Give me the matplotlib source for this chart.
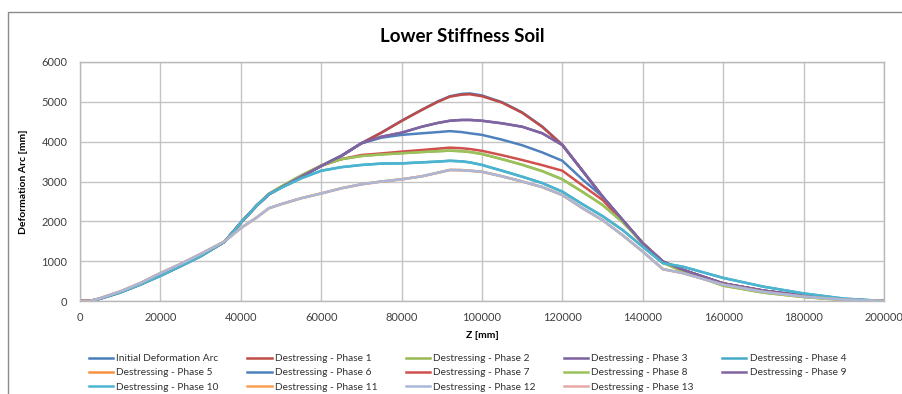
import matplotlib
matplotlib.use("Agg")
import matplotlib.pyplot as plt
from matplotlib.patches import Rectangle
import numpy as np

plt.rcParams['font.family'] = ['Lato', 'DejaVu Sans']

# ---------------- data ----------------
z = [0, 2500, 5000, 10000, 15000, 20000, 25000, 30000, 36000, 40000, 44000, 47000,
     50000, 55000, 60000, 65000, 70000, 75000, 80000, 85000, 89000, 92000, 95000, 97000, 100000,
     105000, 110000, 115000, 120000, 125000, 130000, 135000, 140000, 145000, 150000,
     160000, 170000, 180000, 190000, 200000]

initial_arc = [0, 0, 60, 220, 420, 640, 880, 1130, 1490, 1965, 2400, 2680,
               2850, 3120, 3390, 3650, 3960, 4230, 4525, 4800, 5010, 5140, 5200, 5210, 5160,
               4990, 4735, 4380, 3920, 3270, 2620, 2030, 1450, 990, 780,
               440, 260, 130, 40, 0]
phase_1 = [0, 0, 60, 220, 420, 640, 880, 1130, 1490, 1965, 2400, 2680,
           2850, 3120, 3390, 3640, 3960, 4225, 4520, 4795, 5000, 5130, 5180, 5190, 5140,
           4980, 4725, 4370, 3915, 3270, 2620, 2030, 1450, 990, 780,
           440, 260, 130, 40, 0]
phase_2 = [0, 0, 60, 220, 420, 640, 880, 1130, 1490, 1965, 2400, 2690,
           2870, 3150, 3400, 3560, 3640, 3680, 3710, 3740, 3760, 3775, 3760, 3740, 3690,
           3560, 3420, 3260, 3055, 2740, 2410, 1980, 1450, 960, 740,
           385, 210, 100, 25, 0]
phase_3 = [0, 0, 60, 220, 420, 640, 880, 1130, 1490, 1965, 2400, 2680,
           2850, 3120, 3390, 3640, 3960, 4125, 4225, 4375, 4470, 4525, 4545, 4545, 4525,
           4460, 4375, 4210, 3915, 3270, 2620, 2030, 1450, 990, 780,
           440, 260, 130, 40, 0]
phase_4 = [0, 0, 55, 210, 410, 630, 870, 1120, 1490, 1965, 2400, 2680,
           2840, 3080, 3270, 3360, 3415, 3450, 3455, 3480, 3500, 3520, 3505, 3480, 3415,
           3270, 3120, 2960, 2745, 2430, 2130, 1780, 1360, 950, 860,
           580, 360, 190, 60, 0]
phase_5 = [0, 0, 70, 240, 450, 700, 930, 1180, 1500, 1830, 2100, 2330,
           2430, 2580, 2700, 2830, 2930, 3000, 3055, 3130, 3220, 3290, 3285, 3270, 3245,
           3130, 3000, 2860, 2660, 2330, 2030, 1650, 1240, 800, 700,
           410, 230, 110, 35, 0]
phase_6 = [0, 0, 60, 220, 420, 640, 880, 1130, 1490, 1965, 2400, 2680,
           2850, 3120, 3390, 3640, 3960, 4100, 4170, 4210, 4240, 4265, 4240, 4210, 4170,
           4050, 3910, 3730, 3520, 3050, 2620, 2030, 1450, 990, 780,
           440, 260, 130, 40, 0]
phase_7 = [0, 0, 60, 220, 420, 640, 880, 1130, 1490, 1965, 2400, 2680,
           2860, 3140, 3400, 3560, 3665, 3705, 3750, 3790, 3825, 3850, 3835, 3815, 3770,
           3660, 3540, 3410, 3270, 2900, 2535, 2000, 1450, 990, 780,
           440, 260, 130, 40, 0]
phase_8 = phase_2
phase_9 = phase_3
phase_10 = phase_4
phase_11 = phase_5
phase_12 = phase_5
z_13 = [0, 2500]
phase_13 = [0, 0]

labels = ["Initial Deformation Arc"] + [f"Destressing - Phase {i}" for i in range(1, 14)]
series = [initial_arc, phase_1, phase_2, phase_3, phase_4, phase_5, phase_6,
          phase_7, phase_8, phase_9, phase_10, phase_11, phase_12, phase_13]
xs = [z] * 13 + [z_13]

colors = ["#4A7EBB", "#BE4B48", "#98B954", "#7D60A0", "#46AAC5", "#F69240",
          "#4F81BD", "#D0504D", "#9BC15A", "#8064A2", "#4BB4D0", "#F9A050",
          "#A9B8DA", "#E6A8A8"]

x_ticks = [0, 20000, 40000, 60000, 80000, 100000, 120000, 140000, 160000, 180000, 200000]
y_ticks = [0, 1000, 2000, 3000, 4000, 5000, 6000]

# ---------------- figure ----------------
fig = plt.figure(figsize=(9.03, 3.94), dpi=100)
ax = fig.add_axes([80 / 903, 1 - 301 / 394, 804 / 903, 239 / 394])

handles = []
for xv, yv, c, lab in zip(xs, series, colors, labels):
    h, = ax.plot(xv, yv, color=c, lw=1.8, label=lab, solid_joinstyle='round')
    handles.append(h)

ax.set_xlim(0, 200000)
ax.set_ylim(0, 6000)
ax.set_xticks(x_ticks)
ax.set_yticks(y_ticks)
ax.set_xticklabels([str(v) for v in x_ticks])
ax.set_yticklabels([str(v) for v in y_ticks])
ax.tick_params(length=0, labelsize=8, colors="#404040", pad=9)
ax.tick_params(axis='x', pad=8)
ax.grid(True, color="#C4C4C4", lw=1)
ax.set_axisbelow(True)
for s in ax.spines.values():
    s.set_color("#B8B8B8")
    s.set_linewidth(1)

ax.set_xlabel("Z [mm]", fontsize=7.5, fontweight='bold', labelpad=6)
ax.set_ylabel("Deformation Arc [mm]", fontsize=7.5, fontweight='bold', labelpad=10)
fig.text(462 / 903, 1 - 36 / 394, "Lower Stiffness Soil", fontsize=13.5,
         fontweight='bold', ha='center', va='center')

order = [0, 5, 10, 1, 6, 11, 2, 7, 12, 3, 8, 13, 4, 9]
leg = fig.legend([handles[i] for i in order], [labels[i] for i in order],
                 ncol=5, loc='upper left', bbox_to_anchor=(84 / 903, 1 - 349 / 394),
                 frameon=False, fontsize=7.3, handlelength=2.4, handletextpad=0.3,
                 columnspacing=2.8, labelspacing=0.5, borderpad=0)
for t in leg.get_texts():
    t.set_color("#303030")

fig.add_artist(Rectangle((8 / 903, -0.1), 1.2, (1 - 12 / 394) + 0.1,
                         transform=fig.transFigure, fill=False,
                         ec="#8A8A8A", lw=1))

fig.savefig("out.png", dpi=100)
